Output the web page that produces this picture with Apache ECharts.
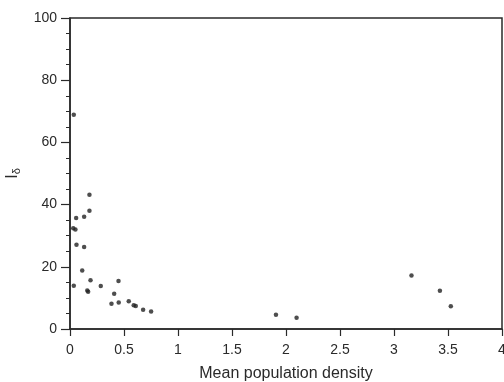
<!DOCTYPE html>
<html>
<head>
<meta charset="utf-8">
<script src="https://cdn.jsdelivr.net/npm/echarts@6/dist/echarts.min.js"></script>
<style>
  html, body { margin: 0; padding: 0; background: #fff; }
  #chart { width: 504px; height: 382px; }
</style>
</head>
<body>
<div id="chart"></div>
<script>
// mean population density vs I_delta
const density = [
  0.035, 0.18, 0.18, 0.057, 0.131, 0.03, 0.05, 0.06, 0.131, 0.113,
  0.035, 0.19, 0.168, 0.16, 0.285, 0.449, 0.409, 0.384, 0.451, 0.544,
  0.59, 0.609, 0.677, 0.751, 1.907, 2.098, 3.162, 3.425, 3.526
]
const iDelta = [
  68.9, 43.2, 38.0, 35.7, 36.1, 32.4, 32.0, 27.1, 26.4, 18.8,
  13.9, 15.7, 12.0, 12.4, 13.8, 15.4, 11.3, 8.1, 8.5, 8.9,
  7.6, 7.4, 6.2, 5.6, 4.6, 3.6, 17.2, 12.3, 7.3
]
const xTicks = ['0', '0.5', '1', '1.5', '2', '2.5', '3', '3.5', '4']

const chart = echarts.init(document.getElementById('chart'))

const ink = '#2a2a2a'
const font = 'Liberation Sans, Arial, sans-serif'

chart.setOption({
  backgroundColor: '#fff',
  animation: false,
  grid: {
    left: 70, right: 2, top: 18, bottom: 53,
    outerBoundsMode: 'none',
    containLabel: false,
    show: true, borderColor: ink, borderWidth: 1.5, backgroundColor: 'transparent'
  },
  xAxis: {
    type: 'value',
    min: 0, max: 4, interval: 0.5,
    name: 'Mean population density',
    nameLocation: 'middle',
    nameGap: 37,
    nameTextStyle: { color: ink, fontSize: 16, fontFamily: font },
    axisLine: { show: true, onZero: false, lineStyle: { color: ink, width: 1.5 } },
    axisTick: { show: true, inside: false, length: 7, lineStyle: { color: ink, width: 1.2 } },
    axisLabel: {
      color: ink, fontSize: 14, fontFamily: font, margin: 14,
      formatter: (v) => xTicks[Math.round(v / 0.5)]
    },
    splitLine: { show: false }
  },
  yAxis: {
    type: 'value',
    min: 0, max: 100, interval: 20,
    name: '{i|I}{d|δ}',
    nameLocation: 'middle',
    nameRotate: 90,
    nameGap: 45,
    nameTextStyle: {
      rich: {
        i: { color: ink, fontSize: 16, fontFamily: font },
        d: { color: ink, fontSize: 11, fontFamily: font, padding: [9, 0, 0, 0] }
      }
    },
    axisLine: { show: true, onZero: false, lineStyle: { color: ink, width: 1.5 } },
    axisTick: { show: true, inside: false, length: 9, lineStyle: { color: ink, width: 1.2 } },
    minorTick: { show: true, splitNumber: 4, length: 4, lineStyle: { color: ink, width: 1 } },
    axisLabel: { color: ink, fontSize: 14, fontFamily: font, margin: 13 },
    splitLine: { show: false }
  },
  series: [{
    type: 'scatter',
    data: density.map((x, i) => [x, iDelta[i]]),
    symbol: 'circle',
    symbolSize: 4.5,
    itemStyle: { color: '#222' }
  }]
})
</script>
</body>
</html>
